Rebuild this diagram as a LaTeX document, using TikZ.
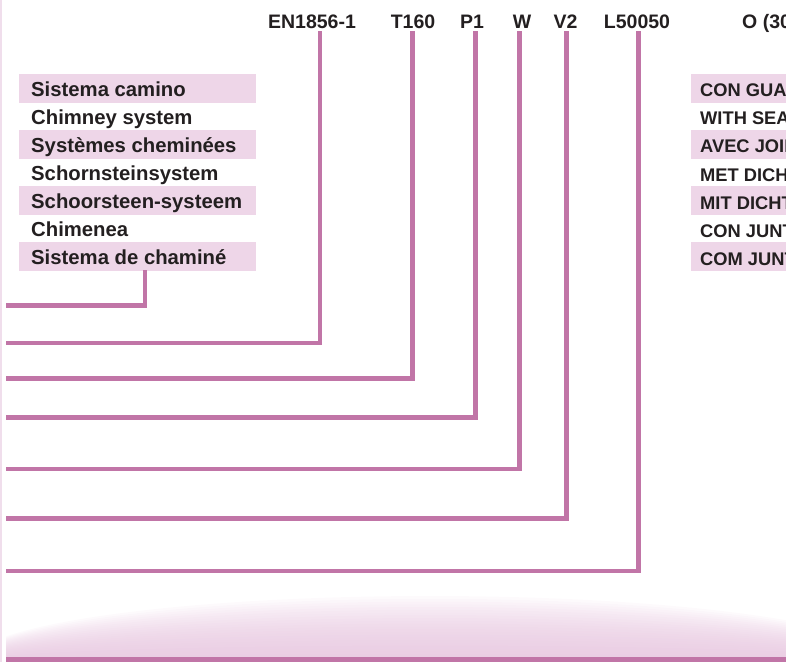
\documentclass[tikz,border=0pt]{standalone}
\usepackage{fontspec}
\setmainfont{Liberation Sans}
\definecolor{lnk}{RGB}{193,117,167}
\definecolor{barpk}{RGB}{238,214,232}
\definecolor{gradpk}{RGB}{230,196,222}
\definecolor{edgepk}{RGB}{240,222,236}
\definecolor{txt}{RGB}{35,31,32}
\tikzset{
  toplbl/.style={font=\fontsize{19.5}{21}\selectfont\bfseries, text=txt, anchor=base, inner sep=0pt},
  lftlbl/.style={font=\fontsize{20.3}{22}\selectfont\bfseries, text=txt, anchor=base west, inner sep=0pt},
  rgtlbl/.style={font=\fontsize{18.3}{20}\selectfont\bfseries, text=txt, anchor=base west, inner sep=0pt},
  barbox/.style={fill=barpk, draw=none, anchor=north west, inner sep=0pt, minimum height=29pt},
  conn/.style={draw=lnk, line width=4.5pt, line join=miter, line cap=butt}
}
\begin{document}
\begin{tikzpicture}[x=1pt,y=-1pt]
\useasboundingbox (0,0) rectangle (786,662);
\clip (0,0) rectangle (786,662);
% faint left edge
\draw[edgepk, line width=1.5pt] (0.75,0) -- (0.75,662);
% bottom dome gradient
\begin{scope}
  \clip (6,0) rectangle (786,656);
  \foreach \k in {1,...,24}{
    \fill[gradpk, opacity=0.08] (430,662) ellipse [x radius=460, y radius={2.75*\k}];
  }
\end{scope}
% left language rows
\foreach \i/\t in {0/Sistema camino,1/Chimney system,2/Systèmes cheminées,3/Schornsteinsystem,4/Schoorsteen-systeem,5/Chimenea,6/Sistema de chaminé}{
  \pgfmathsetmacro{\top}{73.3+28.1*\i}
  \ifodd\i\else
    \node[barbox, minimum width=237pt] (lb\i) at (19,\top) {};
  \fi
  \node[lftlbl] (lt\i) at (31,\top+22.7) {\t};
}
% right language rows
\foreach \i/\t in {0/CON GUARNIZIONE,1/WITH SEAL,2/AVEC JOINT,3/MET DICHTING,4/MIT DICHTUNG,5/CON JUNTA,6/COM JUNTA}{
  \pgfmathsetmacro{\top}{73.3+28.1*\i}
  \ifodd\i\else
    \node[barbox, minimum width=110pt] (rb\i) at (691,\top) {};
  \fi
  \node[rgtlbl] (rt\i) at (700,\top+23.4) {\t};
}
% top code labels
\node[toplbl] (en) at (312,28) {EN1856-1};
\node[toplbl] (tc) at (413,28) {T160};
\node[toplbl] (pc) at (472,28) {P1};
\node[toplbl] (wc) at (522,28) {W};
\node[toplbl] (vc) at (565.5,28) {V2};
\node[toplbl] (lc) at (637,28) {L50050};
\node[toplbl, anchor=base west] (oc) at (742,28) {O (30)};
% connector coordinates
\coordinate (s0) at (145,270);
\coordinate (e0) at (6,305.5);
\coordinate (s1) at (320,31);
\coordinate (e1) at (6,343);
\coordinate (s2) at (412.5,31);
\coordinate (e2) at (6,378.5);
\coordinate (s3) at (475.5,31);
\coordinate (e3) at (6,417.5);
\coordinate (s4) at (519.5,31);
\coordinate (e4) at (6,469);
\coordinate (s5) at (566.5,31);
\coordinate (e5) at (6,518.5);
\coordinate (s6) at (638.5,31);
\coordinate (e6) at (6,571);
\coordinate (b0) at (6,659);
\coordinate (b1) at (786,659);
\foreach \n in {0,...,6}{
  \draw[conn] (s\n) |- (e\n);
}
\draw[conn, line width=5pt] (b0) -- (b1);
\end{tikzpicture}
\end{document}
